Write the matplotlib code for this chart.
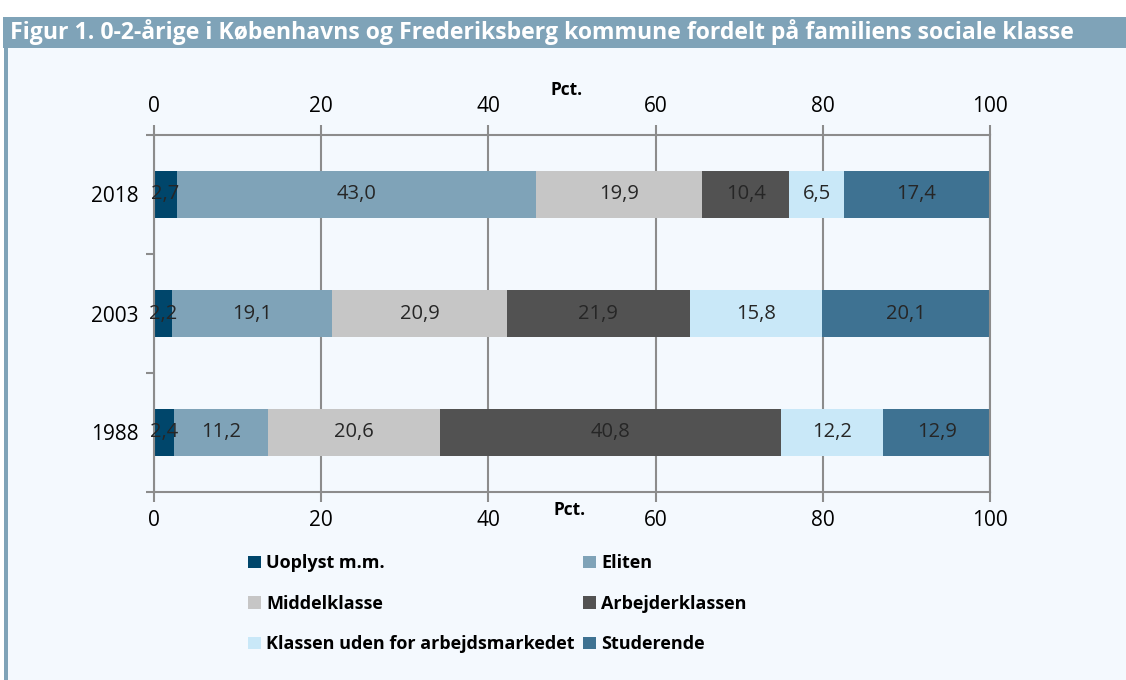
import numpy as np
import matplotlib.pyplot as plt
from matplotlib.patches import Rectangle, Patch

# data
years = ["1988", "2003", "2018"]
groups = ["Uoplyst m.m.", "Eliten", "Middelklasse", "Arbejderklassen",
          "Klassen uden for arbejdsmarkedet", "Studerende"]
uoplyst = [2.4, 2.2, 2.7]
eliten = [11.2, 19.1, 43.0]
middel = [20.6, 20.9, 19.9]
arbejder = [40.8, 21.9, 10.4]
uden = [12.2, 15.8, 6.5]
studerende = [12.9, 20.1, 17.4]
colors = ["#00466B", "#7FA3B8", "#C6C6C6", "#525252", "#C9E8F8", "#3E7292"]

title = "Figur 1. 0-2-årige i Københavns og Frederiksberg kommune fordelt på familiens sociale klasse"

plt.rcParams['font.family'] = ['Open Sans', 'DejaVu Sans']

fig = plt.figure(figsize=(11.26, 6.8), dpi=100)
fig.patch.set_facecolor("white")

# panel background, header bar and left border
fig.patches.append(Rectangle((4 / 1126, 0), 1, 632 / 680, transform=fig.transFigure,
                             facecolor="#F4F9FE", edgecolor="none", zorder=-2))
fig.patches.append(Rectangle((3 / 1126, 632 / 680), 1, 31 / 680, transform=fig.transFigure,
                             facecolor="#7FA3B8", edgecolor="none", zorder=-2))
fig.patches.append(Rectangle((4 / 1126, 0), 4 / 1126, 632 / 680, transform=fig.transFigure,
                             facecolor="#7FA3B8", edgecolor="none", zorder=-2))
fig.text(10 / 1126, 1 - 32 / 680, title, color="white", fontsize=16.6, fontweight="bold",
         va="center", ha="left")

ax = fig.add_axes([154 / 1126, 1 - 492 / 680, 836 / 1126, 357 / 680])
ax.set_facecolor("none")
ax.set_zorder(2)

series = [uoplyst, eliten, middel, arbejder, uden, studerende]
y = np.arange(len(years))
left = np.zeros(len(years))
for vals, col, name in zip(series, colors, groups):
    vals = np.array(vals)
    ax.barh(y, vals, left=left, height=0.4, color=col, edgecolor="none", label=name, zorder=2)
    for yi, l, v in zip(y, left, vals):
        ax.text(l + v / 2, yi, f"{v:.1f}".replace(".", ","), ha="center", va="center",
                fontsize=14.5, color="#262626", zorder=3)
    left += vals

ax.set_xlim(0, 100)
ax.set_ylim(-0.5, 2.5)
ax.set_xticks(np.arange(0, 101, 20))
ax.set_yticks(y)
ax.set_yticklabels(years)
ax.set_yticks([-0.5, 0.5, 1.5, 2.5], minor=True)
ax.tick_params(axis="y", which="major", length=0, pad=11, labelsize=15)
ax.tick_params(axis="y", which="minor", length=6, color="#8C8C8C", width=1.5)
ax.tick_params(axis="x", length=7, color="#8C8C8C", width=1.5, labelsize=15,
               top=True, labeltop=True, pad=6)
ax.grid(axis="x", color="#8C8C8C", linewidth=1.5, zorder=1)
ax.set_axisbelow(True)
for s in ax.spines.values():
    s.set_color("#8C8C8C")
    s.set_linewidth(1.5)

ax.text(0.493, 1.125, "Pct.", transform=ax.transAxes, ha="center", va="center",
        fontsize=12.5, fontweight="bold")
ax.text(0.497, -0.05, "Pct.", transform=ax.transAxes, ha="center", va="center",
        fontsize=12.5, fontweight="bold")

handles = [Patch(facecolor=c, edgecolor="none") for c in colors]
order = [0, 2, 4, 1, 3, 5]
fig.legend([handles[i] for i in order], [groups[i] for i in order], ncol=2,
           loc="upper left", bbox_to_anchor=(232 / 1126, 1 - 538 / 680), frameon=False,
           prop={"weight": "bold", "size": 13}, handlelength=0.7, handleheight=0.7,
           handletextpad=0.3, labelspacing=1.25, columnspacing=0.45)

fig.savefig("out.png", dpi=100)
